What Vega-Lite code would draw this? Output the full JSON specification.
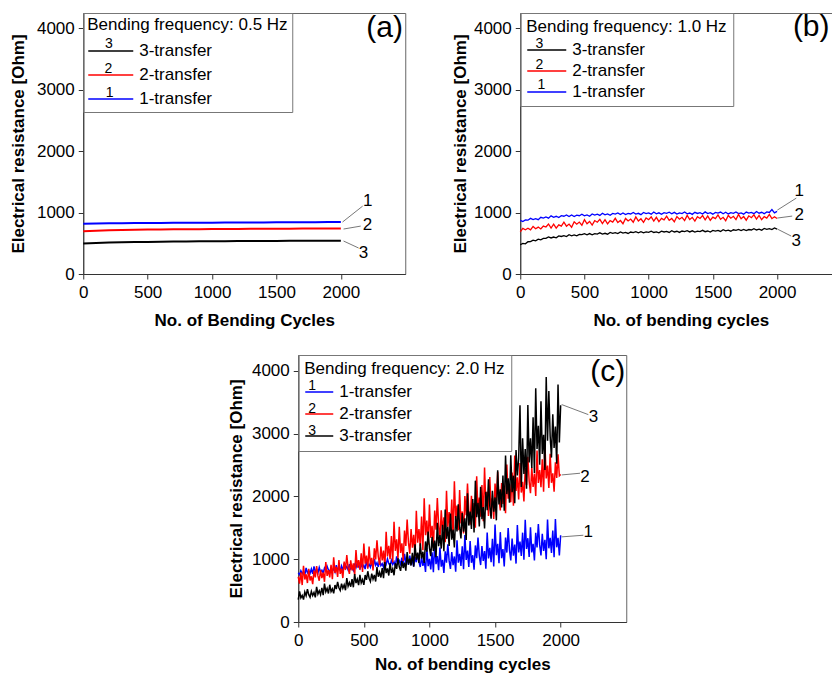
{
"$schema": "https://vega.github.io/schema/vega-lite/v6.json",
"padding": {"left": 8, "top": 12, "right": 0, "bottom": 0},
"background": "white",
"config": {
 "font": "Liberation Sans",
 "view": {"stroke": "#666", "strokeWidth": 1},
 "axis": {"labelFontSize": 17, "titleFontSize": 17, "titleFontWeight": "bold", "labelColor": "#000", "titleColor": "#000", "domainColor": "#333", "tickColor": "#333", "tickSize": 5, "grid": false, "labelFlush": false, "labelOverlap": false},
 "axisX": {"labelPadding": 5},
 "axisY": {"labelPadding": 4},
 "legend": {"orient": "top-left", "offset": 0, "strokeColor": "#777", "titleFontSize": 17, "titleFontWeight": "normal", "titleColor": "#000", "labelFontSize": 17, "labelColor": "#000", "symbolType": "stroke", "symbolStrokeWidth": 1.5, "labelOffset": 5, "titleLimit": 400, "labelLimit": 300},
 "text": {"font": "Liberation Sans", "color": "#000"}
},
"datasets": {
 "a": [
  {"s":"1","x":0,"y":818},{"s":"1","x":100,"y":822},{"s":"1","x":200,"y":825},{"s":"1","x":300,"y":827},{"s":"1","x":400,"y":829},{"s":"1","x":500,"y":830},{"s":"1","x":600,"y":832},{"s":"1","x":700,"y":833},{"s":"1","x":800,"y":834},{"s":"1","x":900,"y":835},{"s":"1","x":1000,"y":836},{"s":"1","x":1100,"y":837},{"s":"1","x":1200,"y":838},{"s":"1","x":1300,"y":839},{"s":"1","x":1400,"y":840},{"s":"1","x":1500,"y":841},{"s":"1","x":1600,"y":842},{"s":"1","x":1700,"y":843},{"s":"1","x":1800,"y":844},{"s":"1","x":1900,"y":845},{"s":"1","x":2000,"y":846},
  {"s":"2","x":0,"y":695},{"s":"2","x":100,"y":705},{"s":"2","x":200,"y":712},{"s":"2","x":300,"y":717},{"s":"2","x":400,"y":720},{"s":"2","x":500,"y":723},{"s":"2","x":600,"y":725},{"s":"2","x":700,"y":727},{"s":"2","x":800,"y":729},{"s":"2","x":900,"y":730},{"s":"2","x":1000,"y":732},{"s":"2","x":1100,"y":733},{"s":"2","x":1200,"y":734},{"s":"2","x":1300,"y":735},{"s":"2","x":1400,"y":736},{"s":"2","x":1500,"y":737},{"s":"2","x":1600,"y":738},{"s":"2","x":1700,"y":739},{"s":"2","x":1800,"y":740},{"s":"2","x":1900,"y":740},{"s":"2","x":2000,"y":741},
  {"s":"3","x":0,"y":495},{"s":"3","x":100,"y":505},{"s":"3","x":200,"y":512},{"s":"3","x":300,"y":516},{"s":"3","x":400,"y":520},{"s":"3","x":500,"y":523},{"s":"3","x":600,"y":526},{"s":"3","x":700,"y":528},{"s":"3","x":800,"y":530},{"s":"3","x":900,"y":532},{"s":"3","x":1000,"y":533},{"s":"3","x":1100,"y":535},{"s":"3","x":1200,"y":536},{"s":"3","x":1300,"y":537},{"s":"3","x":1400,"y":538},{"s":"3","x":1500,"y":539},{"s":"3","x":1600,"y":540},{"s":"3","x":1700,"y":541},{"s":"3","x":1800,"y":541},{"s":"3","x":1900,"y":542},{"s":"3","x":2000,"y":542}
 ],
 "b": [
  {"s":"1","x":0,"y":874},{"s":"1","x":20,"y":853},{"s":"1","x":40,"y":879},{"s":"1","x":60,"y":876},{"s":"1","x":80,"y":906},{"s":"1","x":100,"y":885},{"s":"1","x":120,"y":902},{"s":"1","x":140,"y":885},{"s":"1","x":160,"y":924},{"s":"1","x":180,"y":911},
  {"s":"1","x":200,"y":928},{"s":"1","x":220,"y":910},{"s":"1","x":240,"y":947},{"s":"1","x":260,"y":923},{"s":"1","x":280,"y":940},{"s":"1","x":300,"y":920},{"s":"1","x":320,"y":950},{"s":"1","x":340,"y":941},{"s":"1","x":360,"y":961},{"s":"1","x":380,"y":936},
  {"s":"1","x":400,"y":962},{"s":"1","x":420,"y":936},{"s":"1","x":440,"y":957},{"s":"1","x":460,"y":949},{"s":"1","x":480,"y":974},{"s":"1","x":500,"y":948},{"s":"1","x":520,"y":962},{"s":"1","x":540,"y":941},{"s":"1","x":560,"y":977},{"s":"1","x":580,"y":960},
  {"s":"1","x":600,"y":974},{"s":"1","x":620,"y":954},{"s":"1","x":640,"y":990},{"s":"1","x":660,"y":963},{"s":"1","x":680,"y":979},{"s":"1","x":700,"y":957},{"s":"1","x":720,"y":986},{"s":"1","x":740,"y":976},{"s":"1","x":760,"y":995},{"s":"1","x":780,"y":969},
  {"s":"1","x":800,"y":994},{"s":"1","x":820,"y":967},{"s":"1","x":840,"y":987},{"s":"1","x":860,"y":978},{"s":"1","x":880,"y":1002},{"s":"1","x":900,"y":975},{"s":"1","x":920,"y":988},{"s":"1","x":940,"y":966},{"s":"1","x":960,"y":1001},{"s":"1","x":980,"y":983},
  {"s":"1","x":1000,"y":996},{"s":"1","x":1020,"y":974},{"s":"1","x":1040,"y":1009},{"s":"1","x":1060,"y":981},{"s":"1","x":1080,"y":996},{"s":"1","x":1100,"y":972},{"s":"1","x":1120,"y":1000},{"s":"1","x":1140,"y":989},{"s":"1","x":1160,"y":1007},{"s":"1","x":1180,"y":980},
  {"s":"1","x":1200,"y":1004},{"s":"1","x":1220,"y":976},{"s":"1","x":1240,"y":996},{"s":"1","x":1260,"y":985},{"s":"1","x":1280,"y":1009},{"s":"1","x":1300,"y":981},{"s":"1","x":1320,"y":993},{"s":"1","x":1340,"y":971},{"s":"1","x":1360,"y":1004},{"s":"1","x":1380,"y":986},
  {"s":"1","x":1400,"y":998},{"s":"1","x":1420,"y":976},{"s":"1","x":1440,"y":1011},{"s":"1","x":1460,"y":983},{"s":"1","x":1480,"y":998},{"s":"1","x":1500,"y":974},{"s":"1","x":1520,"y":1002},{"s":"1","x":1540,"y":991},{"s":"1","x":1560,"y":1009},{"s":"1","x":1580,"y":982},
  {"s":"1","x":1600,"y":1006},{"s":"1","x":1620,"y":978},{"s":"1","x":1640,"y":998},{"s":"1","x":1660,"y":987},{"s":"1","x":1680,"y":1011},{"s":"1","x":1700,"y":983},{"s":"1","x":1720,"y":995},{"s":"1","x":1740,"y":974},{"s":"1","x":1760,"y":1008},{"s":"1","x":1780,"y":991},
  {"s":"1","x":1800,"y":1003},{"s":"1","x":1820,"y":982},{"s":"1","x":1840,"y":1017},{"s":"1","x":1860,"y":990},{"s":"1","x":1880,"y":1005},{"s":"1","x":1900,"y":982},{"s":"1","x":1920,"y":1012},{"s":"1","x":1940,"y":1002},{"s":"1","x":1960,"y":1050},{"s":"1","x":1980,"y":996},
  {"s":"1","x":2000,"y":1020},
  {"s":"2","x":0,"y":685},{"s":"2","x":20,"y":742},{"s":"2","x":40,"y":721},{"s":"2","x":60,"y":745},{"s":"2","x":80,"y":718},{"s":"2","x":100,"y":775},{"s":"2","x":120,"y":738},{"s":"2","x":140,"y":764},{"s":"2","x":160,"y":733},{"s":"2","x":180,"y":780},
  {"s":"2","x":200,"y":765},{"s":"2","x":220,"y":814},{"s":"2","x":240,"y":748},{"s":"2","x":260,"y":812},{"s":"2","x":280,"y":746},{"s":"2","x":300,"y":800},{"s":"2","x":320,"y":779},{"s":"2","x":340,"y":844},{"s":"2","x":360,"y":778},{"s":"2","x":380,"y":813},
  {"s":"2","x":400,"y":762},{"s":"2","x":420,"y":851},{"s":"2","x":440,"y":811},{"s":"2","x":460,"y":845},{"s":"2","x":480,"y":795},{"s":"2","x":500,"y":884},{"s":"2","x":520,"y":817},{"s":"2","x":540,"y":855},{"s":"2","x":560,"y":797},{"s":"2","x":580,"y":870},
  {"s":"2","x":600,"y":843},{"s":"2","x":620,"y":890},{"s":"2","x":640,"y":822},{"s":"2","x":660,"y":884},{"s":"2","x":680,"y":816},{"s":"2","x":700,"y":868},{"s":"2","x":720,"y":845},{"s":"2","x":740,"y":907},{"s":"2","x":760,"y":839},{"s":"2","x":780,"y":871},
  {"s":"2","x":800,"y":818},{"s":"2","x":820,"y":905},{"s":"2","x":840,"y":863},{"s":"2","x":860,"y":895},{"s":"2","x":880,"y":843},{"s":"2","x":900,"y":930},{"s":"2","x":920,"y":862},{"s":"2","x":940,"y":899},{"s":"2","x":960,"y":840},{"s":"2","x":980,"y":912},
  {"s":"2","x":1000,"y":884},{"s":"2","x":1020,"y":930},{"s":"2","x":1040,"y":861},{"s":"2","x":1060,"y":923},{"s":"2","x":1080,"y":854},{"s":"2","x":1100,"y":905},{"s":"2","x":1120,"y":881},{"s":"2","x":1140,"y":942},{"s":"2","x":1160,"y":873},{"s":"2","x":1180,"y":904},
  {"s":"2","x":1200,"y":850},{"s":"2","x":1220,"y":936},{"s":"2","x":1240,"y":892},{"s":"2","x":1260,"y":923},{"s":"2","x":1280,"y":869},{"s":"2","x":1300,"y":955},{"s":"2","x":1320,"y":886},{"s":"2","x":1340,"y":922},{"s":"2","x":1360,"y":863},{"s":"2","x":1380,"y":934},
  {"s":"2","x":1400,"y":905},{"s":"2","x":1420,"y":951},{"s":"2","x":1440,"y":882},{"s":"2","x":1460,"y":944},{"s":"2","x":1480,"y":875},{"s":"2","x":1500,"y":926},{"s":"2","x":1520,"y":901},{"s":"2","x":1540,"y":962},{"s":"2","x":1560,"y":892},{"s":"2","x":1580,"y":923},
  {"s":"2","x":1600,"y":868},{"s":"2","x":1620,"y":953},{"s":"2","x":1640,"y":909},{"s":"2","x":1660,"y":939},{"s":"2","x":1680,"y":885},{"s":"2","x":1700,"y":970},{"s":"2","x":1720,"y":900},{"s":"2","x":1740,"y":936},{"s":"2","x":1760,"y":876},{"s":"2","x":1780,"y":947},
  {"s":"2","x":1800,"y":917},{"s":"2","x":1820,"y":963},{"s":"2","x":1840,"y":893},{"s":"2","x":1860,"y":954},{"s":"2","x":1880,"y":884},{"s":"2","x":1900,"y":935},{"s":"2","x":1920,"y":910},{"s":"2","x":1940,"y":971},{"s":"2","x":1960,"y":901},{"s":"2","x":1980,"y":932},
  {"s":"2","x":2000,"y":905},
  {"s":"3","x":0,"y":477},{"s":"3","x":20,"y":499},{"s":"3","x":40,"y":492},{"s":"3","x":60,"y":525},{"s":"3","x":80,"y":527},{"s":"3","x":100,"y":552},{"s":"3","x":120,"y":540},{"s":"3","x":140,"y":567},{"s":"3","x":160,"y":555},{"s":"3","x":180,"y":579},
  {"s":"3","x":200,"y":580},{"s":"3","x":220,"y":604},{"s":"3","x":240,"y":587},{"s":"3","x":260,"y":602},{"s":"3","x":280,"y":590},{"s":"3","x":300,"y":621},{"s":"3","x":320,"y":611},{"s":"3","x":340,"y":623},{"s":"3","x":360,"y":610},{"s":"3","x":380,"y":639},
  {"s":"3","x":400,"y":622},{"s":"3","x":420,"y":636},{"s":"3","x":440,"y":621},{"s":"3","x":460,"y":646},{"s":"3","x":480,"y":640},{"s":"3","x":500,"y":657},{"s":"3","x":520,"y":638},{"s":"3","x":540,"y":658},{"s":"3","x":560,"y":639},{"s":"3","x":580,"y":656},
  {"s":"3","x":600,"y":650},{"s":"3","x":620,"y":671},{"s":"3","x":640,"y":651},{"s":"3","x":660,"y":663},{"s":"3","x":680,"y":648},{"s":"3","x":700,"y":676},{"s":"3","x":720,"y":663},{"s":"3","x":740,"y":674},{"s":"3","x":760,"y":658},{"s":"3","x":780,"y":686},
  {"s":"3","x":800,"y":666},{"s":"3","x":820,"y":678},{"s":"3","x":840,"y":660},{"s":"3","x":860,"y":684},{"s":"3","x":880,"y":675},{"s":"3","x":900,"y":690},{"s":"3","x":920,"y":670},{"s":"3","x":940,"y":689},{"s":"3","x":960,"y":669},{"s":"3","x":980,"y":685},
  {"s":"3","x":1000,"y":678},{"s":"3","x":1020,"y":698},{"s":"3","x":1040,"y":676},{"s":"3","x":1060,"y":687},{"s":"3","x":1080,"y":670},{"s":"3","x":1100,"y":697},{"s":"3","x":1120,"y":684},{"s":"3","x":1140,"y":694},{"s":"3","x":1160,"y":677},{"s":"3","x":1180,"y":704},
  {"s":"3","x":1200,"y":684},{"s":"3","x":1220,"y":696},{"s":"3","x":1240,"y":677},{"s":"3","x":1260,"y":700},{"s":"3","x":1280,"y":690},{"s":"3","x":1300,"y":705},{"s":"3","x":1320,"y":685},{"s":"3","x":1340,"y":703},{"s":"3","x":1360,"y":683},{"s":"3","x":1380,"y":698},
  {"s":"3","x":1400,"y":691},{"s":"3","x":1420,"y":711},{"s":"3","x":1440,"y":689},{"s":"3","x":1460,"y":700},{"s":"3","x":1480,"y":683},{"s":"3","x":1500,"y":710},{"s":"3","x":1520,"y":698},{"s":"3","x":1540,"y":709},{"s":"3","x":1560,"y":693},{"s":"3","x":1580,"y":721},
  {"s":"3","x":1600,"y":702},{"s":"3","x":1620,"y":714},{"s":"3","x":1640,"y":697},{"s":"3","x":1660,"y":720},{"s":"3","x":1680,"y":712},{"s":"3","x":1700,"y":727},{"s":"3","x":1720,"y":707},{"s":"3","x":1740,"y":727},{"s":"3","x":1760,"y":707},{"s":"3","x":1780,"y":724},
  {"s":"3","x":1800,"y":717},{"s":"3","x":1820,"y":738},{"s":"3","x":1840,"y":717},{"s":"3","x":1860,"y":729},{"s":"3","x":1880,"y":713},{"s":"3","x":1900,"y":741},{"s":"3","x":1920,"y":728},{"s":"3","x":1940,"y":739},{"s":"3","x":1960,"y":723},{"s":"3","x":1980,"y":751},
  {"s":"3","x":2000,"y":731}
 ],
 "c": [
  {"s":"1","x":0,"y":782},{"s":"1","x":10,"y":754},{"s":"1","x":20,"y":816},{"s":"1","x":30,"y":770},{"s":"1","x":40,"y":802},{"s":"1","x":50,"y":750},{"s":"1","x":60,"y":860},{"s":"1","x":70,"y":784},{"s":"1","x":80,"y":816},{"s":"1","x":90,"y":776},
  {"s":"1","x":100,"y":844},{"s":"1","x":110,"y":768},{"s":"1","x":120,"y":884},{"s":"1","x":130,"y":802},{"s":"1","x":140,"y":834},{"s":"1","x":150,"y":782},{"s":"1","x":160,"y":868},{"s":"1","x":170,"y":798},{"s":"1","x":180,"y":824},{"s":"1","x":190,"y":778},
  {"s":"1","x":200,"y":858},{"s":"1","x":210,"y":818},{"s":"1","x":220,"y":886},{"s":"1","x":230,"y":828},{"s":"1","x":240,"y":800},{"s":"1","x":250,"y":862},{"s":"1","x":260,"y":816},{"s":"1","x":270,"y":848},{"s":"1","x":280,"y":796},{"s":"1","x":290,"y":906},
  {"s":"1","x":300,"y":830},{"s":"1","x":310,"y":862},{"s":"1","x":320,"y":822},{"s":"1","x":330,"y":891},{"s":"1","x":340,"y":814},{"s":"1","x":350,"y":935},{"s":"1","x":360,"y":849},{"s":"1","x":370,"y":883},{"s":"1","x":380,"y":829},{"s":"1","x":390,"y":921},
  {"s":"1","x":400,"y":846},{"s":"1","x":410,"y":874},{"s":"1","x":420,"y":824},{"s":"1","x":430,"y":911},{"s":"1","x":440,"y":867},{"s":"1","x":450,"y":945},{"s":"1","x":460,"y":880},{"s":"1","x":470,"y":848},{"s":"1","x":480,"y":918},{"s":"1","x":490,"y":866},
  {"s":"1","x":500,"y":903},{"s":"1","x":510,"y":842},{"s":"1","x":520,"y":971},{"s":"1","x":530,"y":881},{"s":"1","x":540,"y":919},{"s":"1","x":550,"y":872},{"s":"1","x":560,"y":952},{"s":"1","x":570,"y":861},{"s":"1","x":580,"y":1005},{"s":"1","x":590,"y":903},
  {"s":"1","x":600,"y":943},{"s":"1","x":610,"y":877},{"s":"1","x":620,"y":984},{"s":"1","x":630,"y":896},{"s":"1","x":640,"y":928},{"s":"1","x":650,"y":870},{"s":"1","x":660,"y":970},{"s":"1","x":670,"y":919},{"s":"1","x":680,"y":1004},{"s":"1","x":690,"y":931},
  {"s":"1","x":700,"y":896},{"s":"1","x":710,"y":979},{"s":"1","x":720,"y":916},{"s":"1","x":730,"y":959},{"s":"1","x":740,"y":888},{"s":"1","x":750,"y":1043},{"s":"1","x":760,"y":933},{"s":"1","x":770,"y":977},{"s":"1","x":780,"y":921},{"s":"1","x":790,"y":1023},
  {"s":"1","x":800,"y":909},{"s":"1","x":810,"y":1084},{"s":"1","x":820,"y":954},{"s":"1","x":830,"y":1003},{"s":"1","x":840,"y":912},{"s":"1","x":850,"y":1058},{"s":"1","x":860,"y":931},{"s":"1","x":870,"y":975},{"s":"1","x":880,"y":884},{"s":"1","x":890,"y":1034},
  {"s":"1","x":900,"y":952},{"s":"1","x":910,"y":1093},{"s":"1","x":920,"y":958},{"s":"1","x":930,"y":876},{"s":"1","x":940,"y":1036},{"s":"1","x":950,"y":893},{"s":"1","x":960,"y":984},{"s":"1","x":970,"y":796},{"s":"1","x":980,"y":1180},{"s":"1","x":990,"y":888},
  {"s":"1","x":1000,"y":1005},{"s":"1","x":1010,"y":836},{"s":"1","x":1020,"y":1109},{"s":"1","x":1030,"y":791},{"s":"1","x":1040,"y":1264},{"s":"1","x":1050,"y":920},{"s":"1","x":1060,"y":1050},{"s":"1","x":1070,"y":825},{"s":"1","x":1080,"y":1186},{"s":"1","x":1090,"y":881},
  {"s":"1","x":1100,"y":988},{"s":"1","x":1110,"y":782},{"s":"1","x":1120,"y":1124},{"s":"1","x":1130,"y":944},{"s":"1","x":1140,"y":1238},{"s":"1","x":1150,"y":976},{"s":"1","x":1160,"y":845},{"s":"1","x":1170,"y":1115},{"s":"1","x":1180,"y":904},{"s":"1","x":1190,"y":1043},
  {"s":"1","x":1200,"y":800},{"s":"1","x":1210,"y":1300},{"s":"1","x":1220,"y":943},{"s":"1","x":1230,"y":1086},{"s":"1","x":1240,"y":893},{"s":"1","x":1250,"y":1206},{"s":"1","x":1260,"y":840},{"s":"1","x":1270,"y":1385},{"s":"1","x":1280,"y":988},{"s":"1","x":1290,"y":1136},
  {"s":"1","x":1300,"y":878},{"s":"1","x":1310,"y":1289},{"s":"1","x":1320,"y":943},{"s":"1","x":1330,"y":1063},{"s":"1","x":1340,"y":832},{"s":"1","x":1350,"y":1219},{"s":"1","x":1360,"y":1016},{"s":"1","x":1370,"y":1346},{"s":"1","x":1380,"y":1053},{"s":"1","x":1390,"y":907},
  {"s":"1","x":1400,"y":1210},{"s":"1","x":1410,"y":972},{"s":"1","x":1420,"y":1129},{"s":"1","x":1430,"y":850},{"s":"1","x":1440,"y":1426},{"s":"1","x":1450,"y":1013},{"s":"1","x":1460,"y":1180},{"s":"1","x":1470,"y":952},{"s":"1","x":1480,"y":1326},{"s":"1","x":1490,"y":885},
  {"s":"1","x":1500,"y":1550},{"s":"1","x":1510,"y":1065},{"s":"1","x":1520,"y":1245},{"s":"1","x":1530,"y":935},{"s":"1","x":1540,"y":1430},{"s":"1","x":1550,"y":1015},{"s":"1","x":1560,"y":1160},{"s":"1","x":1570,"y":885},{"s":"1","x":1580,"y":1345},{"s":"1","x":1590,"y":1105},
  {"s":"1","x":1600,"y":1495},{"s":"1","x":1610,"y":1149},{"s":"1","x":1620,"y":979},{"s":"1","x":1630,"y":1327},{"s":"1","x":1640,"y":1057},{"s":"1","x":1650,"y":1231},{"s":"1","x":1660,"y":930},{"s":"1","x":1670,"y":1543},{"s":"1","x":1680,"y":1108},{"s":"1","x":1690,"y":1281},
  {"s":"1","x":1700,"y":1050},{"s":"1","x":1710,"y":1422},{"s":"1","x":1720,"y":990},{"s":"1","x":1730,"y":1629},{"s":"1","x":1740,"y":1163},{"s":"1","x":1750,"y":1334},{"s":"1","x":1760,"y":1035},{"s":"1","x":1770,"y":1507},{"s":"1","x":1780,"y":1108},{"s":"1","x":1790,"y":1245},
  {"s":"1","x":1800,"y":980},{"s":"1","x":1810,"y":1419},{"s":"1","x":1820,"y":1187},{"s":"1","x":1830,"y":1561},{"s":"1","x":1840,"y":1227},{"s":"1","x":1850,"y":1059},{"s":"1","x":1860,"y":1404},{"s":"1","x":1870,"y":1132},{"s":"1","x":1880,"y":1309},{"s":"1","x":1890,"y":998},
  {"s":"1","x":1900,"y":1630},{"s":"1","x":1910,"y":1173},{"s":"1","x":1920,"y":1340},{"s":"1","x":1930,"y":1100},{"s":"1","x":1940,"y":1455},{"s":"1","x":1950,"y":1033},{"s":"1","x":1960,"y":1640},{"s":"1","x":1970,"y":1189},{"s":"1","x":1980,"y":1341},{"s":"1","x":1990,"y":1061},
  {"s":"1","x":2000,"y":1380},
  {"s":"2","x":0,"y":720},{"s":"2","x":10,"y":612},{"s":"2","x":20,"y":792},{"s":"2","x":30,"y":588},{"s":"2","x":40,"y":896},{"s":"2","x":50,"y":676},{"s":"2","x":60,"y":760},{"s":"2","x":70,"y":620},{"s":"2","x":80,"y":848},{"s":"2","x":90,"y":660},
  {"s":"2","x":100,"y":728},{"s":"2","x":110,"y":604},{"s":"2","x":120,"y":817},{"s":"2","x":130,"y":709},{"s":"2","x":140,"y":890},{"s":"2","x":150,"y":734},{"s":"2","x":160,"y":657},{"s":"2","x":170,"y":828},{"s":"2","x":180,"y":699},{"s":"2","x":190,"y":788},
  {"s":"2","x":200,"y":640},{"s":"2","x":210,"y":953},{"s":"2","x":220,"y":734},{"s":"2","x":230,"y":827},{"s":"2","x":240,"y":709},{"s":"2","x":250,"y":909},{"s":"2","x":260,"y":682},{"s":"2","x":270,"y":1029},{"s":"2","x":280,"y":781},{"s":"2","x":290,"y":878},
  {"s":"2","x":300,"y":717},{"s":"2","x":310,"y":985},{"s":"2","x":320,"y":766},{"s":"2","x":330,"y":850},{"s":"2","x":340,"y":700},{"s":"2","x":350,"y":962},{"s":"2","x":360,"y":831},{"s":"2","x":370,"y":1066},{"s":"2","x":380,"y":866},{"s":"2","x":390,"y":767},
  {"s":"2","x":400,"y":982},{"s":"2","x":410,"y":820},{"s":"2","x":420,"y":933},{"s":"2","x":430,"y":745},{"s":"2","x":440,"y":1146},{"s":"2","x":450,"y":866},{"s":"2","x":460,"y":985},{"s":"2","x":470,"y":833},{"s":"2","x":480,"y":1092},{"s":"2","x":490,"y":798},
  {"s":"2","x":500,"y":1250},{"s":"2","x":510,"y":929},{"s":"2","x":520,"y":1058},{"s":"2","x":530,"y":847},{"s":"2","x":540,"y":1202},{"s":"2","x":550,"y":911},{"s":"2","x":560,"y":1022},{"s":"2","x":570,"y":822},{"s":"2","x":580,"y":1174},{"s":"2","x":590,"y":995},
  {"s":"2","x":600,"y":1299},{"s":"2","x":610,"y":1039},{"s":"2","x":620,"y":908},{"s":"2","x":630,"y":1202},{"s":"2","x":640,"y":981},{"s":"2","x":650,"y":1138},{"s":"2","x":660,"y":876},{"s":"2","x":670,"y":1437},{"s":"2","x":680,"y":1045},{"s":"2","x":690,"y":1214},
  {"s":"2","x":700,"y":998},{"s":"2","x":710,"y":1368},{"s":"2","x":720,"y":947},{"s":"2","x":730,"y":1595},{"s":"2","x":740,"y":1133},{"s":"2","x":750,"y":1315},{"s":"2","x":760,"y":1012},{"s":"2","x":770,"y":1514},{"s":"2","x":780,"y":1099},{"s":"2","x":790,"y":1252},
  {"s":"2","x":800,"y":970},{"s":"2","x":810,"y":1457},{"s":"2","x":820,"y":1209},{"s":"2","x":830,"y":1632},{"s":"2","x":840,"y":1267},{"s":"2","x":850,"y":1087},{"s":"2","x":860,"y":1481},{"s":"2","x":870,"y":1182},{"s":"2","x":880,"y":1388},{"s":"2","x":890,"y":1042},
  {"s":"2","x":900,"y":1770},{"s":"2","x":910,"y":1263},{"s":"2","x":920,"y":1480},{"s":"2","x":930,"y":1205},{"s":"2","x":940,"y":1678},{"s":"2","x":950,"y":1143},{"s":"2","x":960,"y":1970},{"s":"2","x":970,"y":1381},{"s":"2","x":980,"y":1614},{"s":"2","x":990,"y":1229},
  {"s":"2","x":1000,"y":1870},{"s":"2","x":1010,"y":1340},{"s":"2","x":1020,"y":1530},{"s":"2","x":1030,"y":1180},{"s":"2","x":1040,"y":1775},{"s":"2","x":1050,"y":1470},{"s":"2","x":1060,"y":1975},{"s":"2","x":1070,"y":1535},{"s":"2","x":1080,"y":1320},{"s":"2","x":1090,"y":1780},
  {"s":"2","x":1100,"y":1430},{"s":"2","x":1110,"y":1665},{"s":"2","x":1120,"y":1270},{"s":"2","x":1130,"y":2090},{"s":"2","x":1140,"y":1515},{"s":"2","x":1150,"y":1750},{"s":"2","x":1160,"y":1445},{"s":"2","x":1170,"y":1950},{"s":"2","x":1180,"y":1375},{"s":"2","x":1190,"y":2240},
  {"s":"2","x":1200,"y":1620},{"s":"2","x":1210,"y":1855},{"s":"2","x":1220,"y":1460},{"s":"2","x":1230,"y":2100},{"s":"2","x":1240,"y":1570},{"s":"2","x":1250,"y":1760},{"s":"2","x":1260,"y":1410},{"s":"2","x":1270,"y":2005},{"s":"2","x":1280,"y":1700},{"s":"2","x":1290,"y":2205},
  {"s":"2","x":1300,"y":1765},{"s":"2","x":1310,"y":1550},{"s":"2","x":1320,"y":2010},{"s":"2","x":1330,"y":1660},{"s":"2","x":1340,"y":1895},{"s":"2","x":1350,"y":1500},{"s":"2","x":1360,"y":2320},{"s":"2","x":1370,"y":1745},{"s":"2","x":1380,"y":1980},{"s":"2","x":1390,"y":1675},
  {"s":"2","x":1400,"y":2180},{"s":"2","x":1410,"y":1605},{"s":"2","x":1420,"y":2460},{"s":"2","x":1430,"y":1846},{"s":"2","x":1440,"y":2074},{"s":"2","x":1450,"y":1688},{"s":"2","x":1460,"y":2306},{"s":"2","x":1470,"y":1793},{"s":"2","x":1480,"y":1974},{"s":"2","x":1490,"y":1640},
  {"s":"2","x":1500,"y":2203},{"s":"2","x":1510,"y":1915},{"s":"2","x":1520,"y":2393},{"s":"2","x":1530,"y":1978},{"s":"2","x":1540,"y":1775},{"s":"2","x":1550,"y":2210},{"s":"2","x":1560,"y":1880},{"s":"2","x":1570,"y":2103},{"s":"2","x":1580,"y":1730},{"s":"2","x":1590,"y":2505},
  {"s":"2","x":1600,"y":1963},{"s":"2","x":1610,"y":2188},{"s":"2","x":1620,"y":1906},{"s":"2","x":1630,"y":2380},{"s":"2","x":1640,"y":1852},{"s":"2","x":1650,"y":2650},{"s":"2","x":1660,"y":2086},{"s":"2","x":1670,"y":2303},{"s":"2","x":1680,"y":1951},{"s":"2","x":1690,"y":2529},
  {"s":"2","x":1700,"y":2060},{"s":"2","x":1710,"y":2230},{"s":"2","x":1720,"y":1920},{"s":"2","x":1730,"y":2450},{"s":"2","x":1740,"y":2180},{"s":"2","x":1750,"y":2630},{"s":"2","x":1760,"y":2240},{"s":"2","x":1770,"y":2050},{"s":"2","x":1780,"y":2460},{"s":"2","x":1790,"y":2150},
  {"s":"2","x":1800,"y":2360},{"s":"2","x":1810,"y":2005},{"s":"2","x":1820,"y":2730},{"s":"2","x":1830,"y":2215},{"s":"2","x":1840,"y":2420},{"s":"2","x":1850,"y":2145},{"s":"2","x":1860,"y":2590},{"s":"2","x":1870,"y":2075},{"s":"2","x":1880,"y":2840},{"s":"2","x":1890,"y":2285},
  {"s":"2","x":1900,"y":2490},{"s":"2","x":1910,"y":2134},{"s":"2","x":1920,"y":2676},{"s":"2","x":1930,"y":2216},{"s":"2","x":1940,"y":2366},{"s":"2","x":1950,"y":2075},{"s":"2","x":1960,"y":2542},{"s":"2","x":1970,"y":2294},{"s":"2","x":1980,"y":2668},{"s":"2","x":1990,"y":2328},
  {"s":"2","x":2000,"y":2350},
  {"s":"3","x":0,"y":358},{"s":"3","x":10,"y":488},{"s":"3","x":20,"y":384},{"s":"3","x":30,"y":424},{"s":"3","x":40,"y":356},{"s":"3","x":50,"y":477},{"s":"3","x":60,"y":418},{"s":"3","x":70,"y":521},{"s":"3","x":80,"y":435},{"s":"3","x":90,"y":394},
  {"s":"3","x":100,"y":488},{"s":"3","x":110,"y":420},{"s":"3","x":120,"y":469},{"s":"3","x":130,"y":392},{"s":"3","x":140,"y":560},{"s":"3","x":150,"y":446},{"s":"3","x":160,"y":497},{"s":"3","x":170,"y":436},{"s":"3","x":180,"y":544},{"s":"3","x":190,"y":426},
  {"s":"3","x":200,"y":610},{"s":"3","x":210,"y":482},{"s":"3","x":220,"y":535},{"s":"3","x":230,"y":454},{"s":"3","x":240,"y":593},{"s":"3","x":250,"y":484},{"s":"3","x":260,"y":528},{"s":"3","x":270,"y":455},{"s":"3","x":280,"y":589},{"s":"3","x":290,"y":525},
  {"s":"3","x":300,"y":640},{"s":"3","x":310,"y":546},{"s":"3","x":320,"y":502},{"s":"3","x":330,"y":609},{"s":"3","x":340,"y":535},{"s":"3","x":350,"y":592},{"s":"3","x":360,"y":506},{"s":"3","x":370,"y":699},{"s":"3","x":380,"y":570},{"s":"3","x":390,"y":628},
  {"s":"3","x":400,"y":562},{"s":"3","x":410,"y":684},{"s":"3","x":420,"y":553},{"s":"3","x":430,"y":764},{"s":"3","x":440,"y":619},{"s":"3","x":450,"y":681},{"s":"3","x":460,"y":588},{"s":"3","x":470,"y":750},{"s":"3","x":480,"y":623},{"s":"3","x":490,"y":675},
  {"s":"3","x":500,"y":590},{"s":"3","x":510,"y":747},{"s":"3","x":520,"y":672},{"s":"3","x":530,"y":808},{"s":"3","x":540,"y":697},{"s":"3","x":550,"y":644},{"s":"3","x":560,"y":771},{"s":"3","x":570,"y":681},{"s":"3","x":580,"y":749},{"s":"3","x":590,"y":644},
  {"s":"3","x":600,"y":875},{"s":"3","x":610,"y":720},{"s":"3","x":620,"y":791},{"s":"3","x":630,"y":709},{"s":"3","x":640,"y":858},{"s":"3","x":650,"y":698},{"s":"3","x":660,"y":954},{"s":"3","x":670,"y":778},{"s":"3","x":680,"y":852},{"s":"3","x":690,"y":740},
  {"s":"3","x":700,"y":936},{"s":"3","x":710,"y":783},{"s":"3","x":720,"y":846},{"s":"3","x":730,"y":744},{"s":"3","x":740,"y":935},{"s":"3","x":750,"y":846},{"s":"3","x":760,"y":1015},{"s":"3","x":770,"y":879},{"s":"3","x":780,"y":814},{"s":"3","x":790,"y":970},
  {"s":"3","x":800,"y":860},{"s":"3","x":810,"y":946},{"s":"3","x":820,"y":816},{"s":"3","x":830,"y":1113},{"s":"3","x":840,"y":914},{"s":"3","x":850,"y":1008},{"s":"3","x":860,"y":899},{"s":"3","x":870,"y":1100},{"s":"3","x":880,"y":882},{"s":"3","x":890,"y":1235},
  {"s":"3","x":900,"y":991},{"s":"3","x":910,"y":1105},{"s":"3","x":920,"y":941},{"s":"3","x":930,"y":1254},{"s":"3","x":940,"y":1010},{"s":"3","x":950,"y":1118},{"s":"3","x":960,"y":940},{"s":"3","x":970,"y":1282},{"s":"3","x":980,"y":1119},{"s":"3","x":990,"y":1438},
  {"s":"3","x":1000,"y":1180},{"s":"3","x":1010,"y":1048},{"s":"3","x":1020,"y":1354},{"s":"3","x":1030,"y":1130},{"s":"3","x":1040,"y":1295},{"s":"3","x":1050,"y":1030},{"s":"3","x":1060,"y":1580},{"s":"3","x":1070,"y":1208},{"s":"3","x":1080,"y":1384},{"s":"3","x":1090,"y":1169},
  {"s":"3","x":1100,"y":1549},{"s":"3","x":1110,"y":1126},{"s":"3","x":1120,"y":1790},{"s":"3","x":1130,"y":1324},{"s":"3","x":1140,"y":1514},{"s":"3","x":1150,"y":1211},{"s":"3","x":1160,"y":1726},{"s":"3","x":1170,"y":1309},{"s":"3","x":1180,"y":1470},{"s":"3","x":1190,"y":1188},
  {"s":"3","x":1200,"y":1688},{"s":"3","x":1210,"y":1440},{"s":"3","x":1220,"y":1875},{"s":"3","x":1230,"y":1509},{"s":"3","x":1240,"y":1330},{"s":"3","x":1250,"y":1736},{"s":"3","x":1260,"y":1436},{"s":"3","x":1270,"y":1651},{"s":"3","x":1280,"y":1304},{"s":"3","x":1290,"y":2049},
  {"s":"3","x":1300,"y":1535},{"s":"3","x":1310,"y":1757},{"s":"3","x":1320,"y":1481},{"s":"3","x":1330,"y":1958},{"s":"3","x":1340,"y":1424},{"s":"3","x":1350,"y":2250},{"s":"3","x":1360,"y":1667},{"s":"3","x":1370,"y":1899},{"s":"3","x":1380,"y":1522},{"s":"3","x":1390,"y":2153},
  {"s":"3","x":1400,"y":1638},{"s":"3","x":1410,"y":1828},{"s":"3","x":1420,"y":1488},{"s":"3","x":1430,"y":2073},{"s":"3","x":1440,"y":1778},{"s":"3","x":1450,"y":2270},{"s":"3","x":1460,"y":1847},{"s":"3","x":1470,"y":1644},{"s":"3","x":1480,"y":2087},{"s":"3","x":1490,"y":1757},
  {"s":"3","x":1500,"y":1983},{"s":"3","x":1510,"y":1618},{"s":"3","x":1520,"y":2414},{"s":"3","x":1530,"y":1872},{"s":"3","x":1540,"y":2111},{"s":"3","x":1550,"y":1823},{"s":"3","x":1560,"y":2332},{"s":"3","x":1570,"y":1771},{"s":"3","x":1580,"y":2650},{"s":"3","x":1590,"y":2036},
  {"s":"3","x":1600,"y":2286},{"s":"3","x":1610,"y":1900},{"s":"3","x":1620,"y":2653},{"s":"3","x":1630,"y":2065},{"s":"3","x":1640,"y":2329},{"s":"3","x":1650,"y":1890},{"s":"3","x":1660,"y":2736},{"s":"3","x":1670,"y":2332},{"s":"3","x":1680,"y":2600},{"s":"3","x":1690,"y":3450},
  {"s":"3","x":1700,"y":2150},{"s":"3","x":1710,"y":2924},{"s":"3","x":1720,"y":2356},{"s":"3","x":1730,"y":2752},{"s":"3","x":1740,"y":2120},{"s":"3","x":1750,"y":3455},{"s":"3","x":1760,"y":2540},{"s":"3","x":1770,"y":2925},{"s":"3","x":1780,"y":2453},{"s":"3","x":1790,"y":3257},
  {"s":"3","x":1800,"y":2370},{"s":"3","x":1810,"y":3720},{"s":"3","x":1820,"y":2753},{"s":"3","x":1830,"y":3124},{"s":"3","x":1840,"y":2502},{"s":"3","x":1850,"y":3515},{"s":"3","x":1860,"y":2676},{"s":"3","x":1870,"y":2979},{"s":"3","x":1880,"y":2420},{"s":"3","x":1890,"y":3900},
  {"s":"3","x":1900,"y":2885},{"s":"3","x":1910,"y":3676},{"s":"3","x":1920,"y":2960},{"s":"3","x":1930,"y":2617},{"s":"3","x":1940,"y":3306},{"s":"3","x":1950,"y":2770},{"s":"3","x":1960,"y":3113},{"s":"3","x":1970,"y":2520},{"s":"3","x":1980,"y":3780},{"s":"3","x":1990,"y":2858},
  {"s":"3","x":2000,"y":3450}
 ],
 "arrows_a": [{"x":2169,"y":1105,"x2":2013,"y2":846},{"x":2154,"y":780,"x2":2021,"y2":732},{"x":2138,"y":423,"x2":2021,"y2":537}],
 "notes_a": [{"t":"1","x":2208,"y":1187},{"t":"2","x":2206,"y":797},{"t":"3","x":2175,"y":347}],
 "keys_a": [{"t":"3","x":200,"y":3740},{"t":"2","x":195,"y":3335},{"t":"1","x":205,"y":2940}],
 "tag_a": [{"t":"(a)","x":2340,"y":4007}],
 "arrows_b": [{"x":2150,"y":1236,"x2":2002,"y2":1040},{"x":2118,"y":943,"x2":2002,"y2":911},{"x":2110,"y":618,"x2":2002,"y2":732}],
 "notes_b": [{"t":"1","x":2173,"y":1350},{"t":"2","x":2173,"y":959},{"t":"3","x":2150,"y":537}],
 "keys_b": [{"t":"3","x":150,"y":3746},{"t":"2","x":150,"y":3404},{"t":"1","x":165,"y":3070}],
 "tag_b": [{"t":"(b)","x":2266,"y":4028}],
 "arrows_c": [{"x":2211,"y":3301,"x2":2008,"y2":3461},{"x":2148,"y":2368,"x2":2008,"y2":2341},{"x":2173,"y":1381,"x2":2008,"y2":1355}],
 "notes_c": [{"t":"3","x":2250,"y":3259},{"t":"2","x":2186,"y":2315},{"t":"1","x":2211,"y":1435}],
 "keys_c": [{"t":"1","x":105,"y":3757},{"t":"2","x":105,"y":3391},{"t":"3","x":105,"y":3041}],
 "tag_c": [{"t":"(c)","x":2359,"y":3984}]
},
"vconcat": [
 {
  "hconcat": [
   {
    "width": 322, "height": 261,
    "encoding": {
     "x": {"field": "x", "type": "quantitative", "scale": {"domain": [0, 2500], "nice": false, "zero": false}, "axis": {"title": "No. of Bending Cycles", "values": [0, 500, 1000, 1500, 2000], "format": "d", "titlePadding": 12}},
     "y": {"field": "y", "type": "quantitative", "scale": {"domain": [0, 4250], "nice": false}, "axis": {"title": "Electrical resistance [Ohm]", "values": [0, 1000, 2000, 3000, 4000], "format": "d", "titlePadding": 9}}
    },
    "layer": [
     {"data": {"name": "a"}, "mark": {"type": "line", "strokeWidth": 2},
      "encoding": {"color": {"field": "s", "type": "nominal", "scale": {"domain": ["3", "2", "1"], "range": ["#000000", "#ff0000", "#0000ff"]},
        "legend": {"title": "Bending frequency: 0.5 Hz", "padding": 4, "symbolSize": 2025, "clipHeight": 18, "rowPadding": 6, "titlePadding": 8, "labelExpr": "datum.label + '-transfer'"}}}},
     {"data": {"name": "arrows_a"}, "mark": {"type": "rule", "color": "#555", "strokeWidth": 0.8}, "encoding": {"x2": {"field": "x2"}, "y2": {"field": "y2"}}},
     {"data": {"name": "notes_a"}, "mark": {"type": "text", "fontSize": 17, "align": "center", "baseline": "middle"}, "encoding": {"text": {"field": "t", "type": "nominal"}}},
     {"data": {"name": "keys_a"}, "mark": {"type": "text", "fontSize": 14, "align": "center", "baseline": "middle"}, "encoding": {"text": {"field": "t", "type": "nominal"}}},
     {"data": {"name": "tag_a"}, "mark": {"type": "text", "fontSize": 30, "align": "center", "baseline": "middle", "clip": true}, "encoding": {"text": {"field": "t", "type": "nominal"}}}
    ]
   },
   {
    "width": 321, "height": 261,
    "encoding": {
     "x": {"field": "x", "type": "quantitative", "scale": {"domain": [0, 2500], "nice": false, "zero": false}, "axis": {"title": "No. of bending cycles", "values": [0, 500, 1000, 1500, 2000], "format": "d", "titlePadding": 12}},
     "y": {"field": "y", "type": "quantitative", "scale": {"domain": [0, 4250], "nice": false}, "axis": {"title": "Electrical resistance [Ohm]", "values": [0, 1000, 2000, 3000, 4000], "format": "d", "titlePadding": 4}}
    },
    "layer": [
     {"data": {"name": "b"}, "mark": {"type": "line", "strokeWidth": 1.3},
      "encoding": {"color": {"field": "s", "type": "nominal", "scale": {"domain": ["3", "2", "1"], "range": ["#000000", "#ff0000", "#0000ff"]},
        "legend": {"title": "Bending frequency: 1.0 Hz\u00a0", "padding": 6, "symbolSize": 1521, "clipHeight": 16, "rowPadding": 4, "titlePadding": 6, "labelExpr": "datum.label + '-transfer'"}}}},
     {"data": {"name": "arrows_b"}, "mark": {"type": "rule", "color": "#555", "strokeWidth": 0.8}, "encoding": {"x2": {"field": "x2"}, "y2": {"field": "y2"}}},
     {"data": {"name": "notes_b"}, "mark": {"type": "text", "fontSize": 17, "align": "center", "baseline": "middle"}, "encoding": {"text": {"field": "t", "type": "nominal"}}},
     {"data": {"name": "keys_b"}, "mark": {"type": "text", "fontSize": 14, "align": "center", "baseline": "middle"}, "encoding": {"text": {"field": "t", "type": "nominal"}}},
     {"data": {"name": "tag_b"}, "mark": {"type": "text", "fontSize": 30, "align": "center", "baseline": "middle", "clip": true}, "encoding": {"text": {"field": "t", "type": "nominal"}}}
    ]
   }
  ],
  "spacing": 44,
  "resolve": {"scale": {"color": "independent"}}
 },
 {
  "width": 328, "height": 267,
  "encoding": {
   "x": {"field": "x", "type": "quantitative", "scale": {"domain": [0, 2500], "nice": false, "zero": false}, "axis": {"title": "No. of bending cycles", "values": [0, 500, 1000, 1500, 2000], "format": "d", "titlePadding": 8}},
   "y": {"field": "y", "type": "quantitative", "scale": {"domain": [0, 4250], "nice": false}, "axis": {"title": "Electrical resistance [Ohm]", "values": [0, 1000, 2000, 3000, 4000], "format": "d", "titlePadding": 6}}
  },
  "layer": [
   {"data": {"name": "c"}, "mark": {"type": "line", "strokeWidth": 1.5},
    "encoding": {"color": {"field": "s", "type": "nominal", "scale": {"domain": ["1", "2", "3"], "range": ["#0000ff", "#ff0000", "#000000"]},
      "legend": {"title": "Bending frequency: 2.0 Hz", "padding": 6, "symbolSize": 784, "clipHeight": 18, "rowPadding": 4, "titlePadding": 5, "labelExpr": "datum.label + '-transfer'"}}}},
   {"data": {"name": "arrows_c"}, "mark": {"type": "rule", "color": "#555", "strokeWidth": 0.8}, "encoding": {"x2": {"field": "x2"}, "y2": {"field": "y2"}}},
   {"data": {"name": "notes_c"}, "mark": {"type": "text", "fontSize": 17, "align": "center", "baseline": "middle"}, "encoding": {"text": {"field": "t", "type": "nominal"}}},
   {"data": {"name": "keys_c"}, "mark": {"type": "text", "fontSize": 14, "align": "center", "baseline": "middle"}, "encoding": {"text": {"field": "t", "type": "nominal"}}},
   {"data": {"name": "tag_c"}, "mark": {"type": "text", "fontSize": 30, "align": "center", "baseline": "middle", "clip": true}, "encoding": {"text": {"field": "t", "type": "nominal"}}}
  ]
 }
],
"spacing": 25,
"center": true,
"resolve": {"scale": {"color": "independent"}}
}
